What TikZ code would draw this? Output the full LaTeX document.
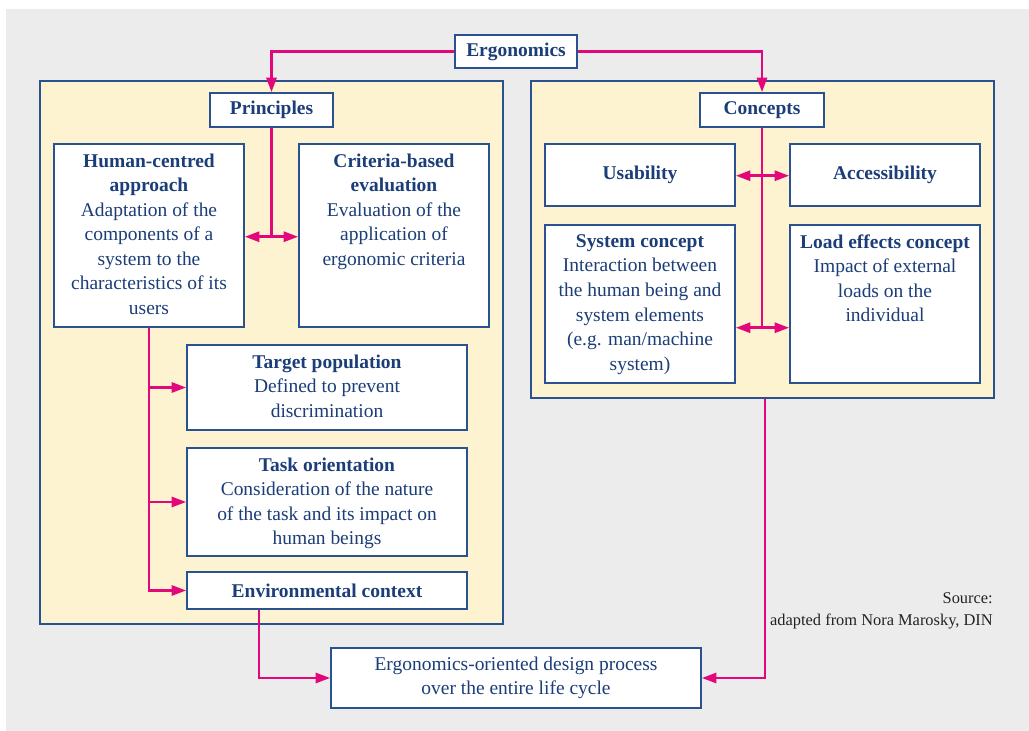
\documentclass[tikz,border=0pt]{standalone}
\usepackage{fontspec}
\setmainfont{Liberation Serif}
\usetikzlibrary{arrows.meta,fit}
\definecolor{bggray}{HTML}{EBECEB}
\definecolor{panelfill}{HTML}{FDF3D0}
\definecolor{navy}{HTML}{1B3D78}
\definecolor{boxline}{HTML}{2A5290}
\definecolor{mag}{HTML}{E2087C}
\definecolor{srcgray}{HTML}{222222}
\begin{document}
\begin{tikzpicture}[x=0.75pt,y=-0.75pt,
  panel/.style={draw=boxline,line width=1.1pt,fill=panelfill,inner sep=0pt},
  box/.style={draw=boxline,line width=1.1pt,fill=white,inner sep=0pt},
  txt/.style={text=navy,align=center,inner sep=0pt,font=\fontsize{14.6}{18.4}\selectfont},
  toptxt/.style={txt,anchor=north,yshift=-7.5pt},
  link/.style={draw=mag,line width=2.2pt},
  arr/.style={link,-{Triangle[length=11pt,width=7.5pt]}},
]
\useasboundingbox (0,0) rectangle (1029,731);
\fill[bggray] (6,9) rectangle (1029,731);

% panels
\node[panel,fit={(40,81)(503,624)}] (lp) {};
\node[panel,fit={(531,81)(994,398)}] (rp) {};

% boxes
\node[box,fit={(455,35)(577,68)}] (erg) {};
\node[box,fit={(210,93)(333,127)}] (pr) {};
\node[box,fit={(700,93)(824,127)}] (cn) {};
\node[box,fit={(54,144)(244,327)}] (hc) {};
\node[box,fit={(299,144)(489,327)}] (cb) {};
\node[box,fit={(187,345)(467,430)}] (tp) {};
\node[box,fit={(187,448)(467,556)}] (to) {};
\node[box,fit={(187,572)(467,609)}] (env) {};
\node[box,fit={(545,144)(735,206)}] (us) {};
\node[box,fit={(790,144)(980,206)}] (ac) {};
\node[box,fit={(545,225)(735,383)}] (sc) {};
\node[box,fit={(790,225)(980,383)}] (le) {};
\node[box,fit={(331,648)(701,708)}] (dp) {};

% texts
\node[txt] at (erg) {\textbf{Ergonomics}};
\node[txt] at (pr) {\textbf{Principles}};
\node[txt] at (cn) {\textbf{Concepts}};
\node[toptxt] at (hc.north) {\textbf{Human-centred}\\\textbf{approach}\\Adaptation of the\\components of a\\system to the\\characteristics of its\\users};
\node[toptxt] at (cb.north) {\textbf{Criteria-based}\\\textbf{evaluation}\\Evaluation of the\\application of\\ergonomic criteria};
\node[toptxt] at (tp.north) {\textbf{Target population}\\Defined to prevent\\discrimination};
\node[toptxt] at (to.north) {\textbf{Task orientation}\\Consideration of the nature\\of the task and its impact on\\human beings};
\node[txt] at (env) {\textbf{Environmental context}};
\node[txt] at (us) {\textbf{Usability}};
\node[txt] at (ac) {\textbf{Accessibility}};
\node[toptxt] at (sc.north) {\textbf{System concept}\\Interaction between\\the human being and\\system elements\\(e.g. man/machine\\system)};
\node[toptxt] at (le.north) {\textbf{Load effects concept}\\Impact of external\\loads on the\\individual};
\node[txt] at (dp) {Ergonomics-oriented design process\\over the entire life cycle};
\node[txt,text=srcgray,anchor=north east,align=right,font=\fontsize{12.3}{16.5}\selectfont] (src) at (993,592) {Source:\\adapted from Nora Marosky, DIN};

% connectors
\draw[arr] (erg.west) -| (pr.north);
\draw[arr] (erg.east) -| (cn.north);

\path (pr.south) ++(0,109) coordinate (pj);
\draw[link] (pr.south) -- (pj);
\draw[arr] (pj) -- (pj -| hc.east);
\draw[arr] (pj) -- (pj -| cb.west);

\path (cn.south) ++(0,48) coordinate (cj1);
\path (cn.south) ++(0,200) coordinate (cj2);
\draw[link] (cn.south) -- (cj2);
\draw[arr] (cj1) -- (cj1 -| us.east);
\draw[arr] (cj1) -- (cj1 -| ac.west);
\draw[arr] (cj2) -- (cj2 -| sc.east);
\draw[arr] (cj2) -- (cj2 -| le.west);

\draw[arr] (hc.south) |- (env.west);
\draw[arr] (hc.south |- tp.west) -- (tp.west);
\draw[arr] (hc.south |- to.west) -- (to.west);

\coordinate (ex) at (259,0);
\coordinate (rx) at (765,0);
\draw[arr] (env.south -| ex) |- (dp.west);
\draw[arr] (rp.south -| rx) |- (dp.east);
\end{tikzpicture}
\end{document}
